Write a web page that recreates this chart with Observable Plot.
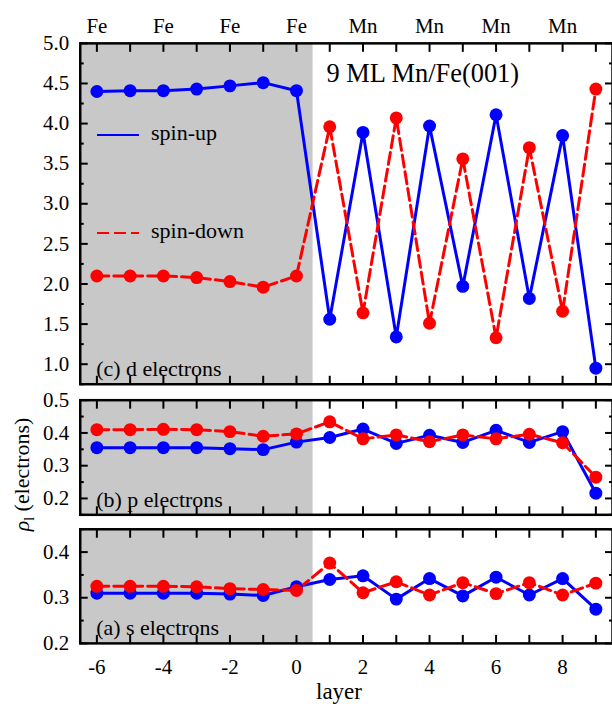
<!DOCTYPE html>
<html>
<head>
<meta charset="utf-8">
<script src="https://cdn.jsdelivr.net/npm/d3@7"></script>
<script src="https://cdn.jsdelivr.net/npm/@observablehq/plot@0.6"></script>
<style>
  html, body { margin: 0; padding: 0; background: white; overflow: hidden; }
  #wrap { position: relative; width: 612px; height: 704px; overflow: hidden; font-family: "Liberation Serif", "Times New Roman", serif; }
  #wrap svg { position: absolute; left: 0; top: 0; }
  #wrap svg text { font-family: "Liberation Serif", "Times New Roman", serif !important; font-variant: normal !important; }
  .lbl { position: absolute; font-size: 22px; white-space: nowrap; color: black; line-height: 1; }
</style>
</head>
<body>
<div id="wrap"></div>
<script>
// ---- data ----
const layers = [-6, -5, -4, -3, -2, -1, 0, 1, 2, 3, 4, 5, 6, 7, 8, 9];
const dUp   = [4.40, 4.41, 4.41, 4.43, 4.47, 4.51, 4.41, 1.56, 3.89, 1.34, 3.97, 1.97, 4.11, 1.82, 3.85, 0.95];
const dDown = [2.10, 2.10, 2.10, 2.08, 2.03, 1.96, 2.10, 3.96, 1.64, 4.07, 1.51, 3.56, 1.33, 3.70, 1.66, 4.43];
const pUp   = [0.355, 0.355, 0.355, 0.355, 0.352, 0.349, 0.372, 0.386, 0.412, 0.368, 0.393, 0.371, 0.408, 0.371, 0.404, 0.216];
const pDown = [0.410, 0.410, 0.411, 0.410, 0.404, 0.390, 0.397, 0.434, 0.382, 0.394, 0.373, 0.394, 0.382, 0.396, 0.370, 0.265];
const sUp   = [0.310, 0.310, 0.310, 0.310, 0.308, 0.305, 0.324, 0.340, 0.348, 0.297, 0.342, 0.304, 0.345, 0.306, 0.342, 0.275];
const sDown = [0.325, 0.325, 0.325, 0.324, 0.320, 0.318, 0.316, 0.376, 0.311, 0.335, 0.306, 0.333, 0.309, 0.333, 0.306, 0.332];

const xDomain = [-6.5, 9.5];
const feRegion = [{x1: -6.5, x2: 0.5}];
const xTickLabels = [-6, -4, -2, 0, 2, 4, 6, 8];
const atomLabels = ["Fe", "Fe", "Fe", "Fe", "Mn", "Mn", "Mn", "Mn"];

const panels = [
  {up: dUp, down: dDown, domain: [0.75, 5.0], top: 43, bottom: 385,
   major: [1.0, 1.5, 2.0, 2.5, 3.0, 3.5, 4.0, 4.5, 5.0], minor: [0.75, 1.25, 1.75, 2.25, 2.75, 3.25, 3.75, 4.25, 4.75],
   label: "(c) d electrons", fmt: d3.format(".1f"), isTop: true},
  {up: pUp, down: pDown, domain: [0.15, 0.5], top: 401, bottom: 516,
   major: [0.2, 0.3, 0.4, 0.5], minor: [0.15, 0.25, 0.35, 0.45],
   label: "(b) p electrons", fmt: d3.format(".1f"), isMiddle: true},
  {up: sUp, down: sDown, domain: [0.2, 0.45], top: 530.5, bottom: 645,
   major: [0.2, 0.3, 0.4], minor: [0.25, 0.35, 0.45],
   label: "(a) s electrons", fmt: d3.format(".1f"), isBottom: true}
];

const BLUE = "#0000ff", RED = "#ff0000";
const FONT = "'Liberation Serif', 'Times New Roman', serif";
const wrap = document.getElementById("wrap");

for (const p of panels) {
  const upRows = layers.map((l, i) => ({layer: l, v: p.up[i]}));
  const downRows = layers.map((l, i) => ({layer: l, v: p.down[i]}));
  const marks = [
    Plot.rect(feRegion, {x1: "x1", x2: "x2", fill: "#c8c8c8"}),
    Plot.line(upRows, {x: "layer", y: "v", stroke: BLUE, strokeWidth: 3}),
    Plot.line(downRows, {x: "layer", y: "v", stroke: RED, strokeWidth: 3, strokeDasharray: "12,5"}),
    Plot.dot(upRows, {x: "layer", y: "v", r: 6.5, fill: BLUE}),
    Plot.dot(downRows, {x: "layer", y: "v", r: 6.5, fill: RED}),
    // inward ticks
    Plot.axisX(layers, {anchor: "top", tickSize: -8, tickFormat: () => "", strokeWidth: 2, label: null}),
    Plot.axisX(layers, {anchor: "bottom", tickSize: -8, tickFormat: () => "", strokeWidth: 2, label: null}),
    Plot.axisY(p.major, {anchor: "left", tickSize: -8, tickFormat: () => "", strokeWidth: 2, label: null}),
    Plot.axisY(p.minor, {anchor: "left", tickSize: -4, tickFormat: () => "", strokeWidth: 2, label: null}),
    Plot.axisY(p.major, {anchor: "right", tickSize: -8, tickFormat: () => "", strokeWidth: 2, label: null}),
    Plot.axisY(p.minor, {anchor: "right", tickSize: -4, tickFormat: () => "", strokeWidth: 2, label: null}),
    // left labels
    Plot.axisY(p.major, {anchor: "left", tickSize: 0, tickPadding: 11, tickFormat: p.fmt, fontSize: 21, fontFamily: FONT, label: null}),
    Plot.frame({stroke: "black", strokeWidth: 2.5}),
    Plot.text([p.label], {frameAnchor: "bottom-left", dx: 16, dy: -8, textAnchor: "start", lineAnchor: "bottom", fontSize: 22, fontFamily: FONT})
  ];
  if (p.isTop) {
    marks.push(Plot.axisX(xTickLabels, {anchor: "top", tickSize: 0, tickPadding: 10, fontSize: 21, fontFamily: FONT, label: null,
      tickFormat: d => atomLabels[xTickLabels.indexOf(d)]}));
    marks.push(Plot.text(["9 ML Mn/Fe(001)"], {frameAnchor: "top-left", dx: 247, dy: 20, textAnchor: "start", lineAnchor: "top", fontSize: 26.5, fontFamily: FONT}));
  }
  if (p.isBottom) {
    marks.push(Plot.axisX(xTickLabels, {anchor: "bottom", tickSize: 0, tickPadding: 16, fontSize: 21, fontFamily: FONT, label: null,
      tickFormat: d => String(d)}));
  }
  const svg = Plot.plot({
    width: 614, height: 704,
    marginLeft: 80, marginRight: 0,
    marginTop: p.top, marginBottom: 704 - p.bottom,
    x: {domain: xDomain},
    y: {domain: p.domain},
    style: {background: "none", fontFamily: FONT, fontSize: "21px", color: "black", overflow: "visible"},
    marks
  });
  if (p.isMiddle) {
    // shared y-axis title, as SVG text with a subscript
    const t = d3.select(svg).append("text")
      .attr("transform", "translate(29,533) rotate(-90)")
      .attr("text-anchor", "start")
      .attr("font-size", 22)
      .attr("fill", "black");
    t.append("tspan").attr("font-style", "italic").text("ρ");
    t.append("tspan").attr("font-size", 14).attr("dy", 5).text("l");
    t.append("tspan").attr("dy", -5).text(" (electrons)");
  }
  wrap.appendChild(svg);
}

// legend (top panel)
function legendItem(y, color, dash, text) {
  const s = document.createElementNS("http://www.w3.org/2000/svg", "svg");
  s.setAttribute("width", 50); s.setAttribute("height", 10);
  s.style.position = "absolute"; s.style.left = "95px"; s.style.top = (y - 5) + "px";
  const ln = document.createElementNS("http://www.w3.org/2000/svg", "line");
  ln.setAttribute("x1", 2); ln.setAttribute("x2", 44); ln.setAttribute("y1", 5); ln.setAttribute("y2", 5);
  ln.setAttribute("stroke", color); ln.setAttribute("stroke-width", 2);
  if (dash) ln.setAttribute("stroke-dasharray", dash);
  s.appendChild(ln);
  wrap.appendChild(s);
  const t = document.createElement("div");
  t.className = "lbl"; t.textContent = text;
  t.style.left = "151px"; t.style.top = (y - 13) + "px";
  wrap.appendChild(t);
}
legendItem(135, BLUE, null, "spin-up");
legendItem(233, RED, "12,5", "spin-down");

// x-axis title
const xl = document.createElement("div");
xl.className = "lbl"; xl.textContent = "layer"; xl.style.fontSize = "23px";
xl.style.left = "316px"; xl.style.top = "680px";
wrap.appendChild(xl);
</script>
</body>
</html>
